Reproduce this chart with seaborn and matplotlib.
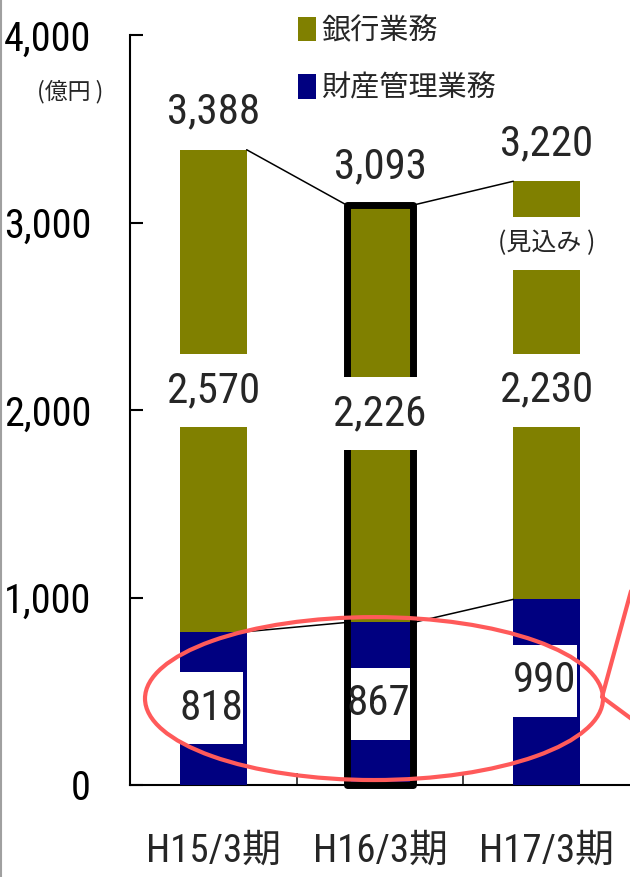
import matplotlib
matplotlib.use("Agg")
import matplotlib.pyplot as plt
from matplotlib.patches import Rectangle, Ellipse, Patch
from matplotlib.lines import Line2D
from matplotlib import font_manager
import seaborn as sns
import pandas as pd

# ---- data (億円) ----
periods = ["H15/3期", "H16/3期", "H17/3期"]
banking = [2570, 2226, 2230]          # 銀行業務
trust = [818, 867, 990]               # 財産管理業務
series_names = ["銀行業務", "財産管理業務"]
y_ticks = [0, 1000, 2000, 3000, 4000]
unit_label = "(億円 )"
forecast_note = "(見込み )"

totals = [b + t for b, t in zip(banking, trust)]

OLIVE = "#808000"
NAVY = "#000080"
RED = "#ff5a5a"

sns.set_style("ticks")


def find_narrow_face():
    """Return (family, stretch) of an installed condensed sans face, if any."""
    narrow = {"condensed", "semi-condensed", "extra-condensed", "ultra-condensed"}
    faces = [f for f in font_manager.fontManager.ttflist
             if f.style == "normal" and f.weight in (400, "normal", "regular")]
    prefs = ["Liberation Sans Narrow", "Arial Narrow", "Roboto Condensed",
             "Open Sans Condensed", "Noto Sans", "Roboto", "Open Sans",
             "DejaVu Sans"]
    for fam in prefs:
        for f in faces:
            if f.name == fam and (f.stretch in narrow or "Narrow" in f.name
                                  or "Condensed" in f.name):
                return f.name, f.stretch
    for f in faces:
        if f.stretch in narrow or "Narrow" in f.name or "Condensed" in f.name:
            return f.name, f.stretch
    return None, None


narrow_family, narrow_stretch = find_narrow_face()
if narrow_family is not None:
    plt.rcParams["font.family"] = [narrow_family, "Noto Sans CJK JP"]
    plt.rcParams["font.stretch"] = narrow_stretch
    k = 1.0
else:
    plt.rcParams["font.family"] = ["Liberation Sans", "Noto Sans CJK JP"]
    k = 0.84

value_size = 31 * k
tick_size = 29 * k
cat_size = 28 * k

fig = plt.figure(figsize=(6.3, 8.77), dpi=100)
ax = fig.add_axes([130 / 630, 92 / 877, 500 / 630, 750 / 877])

df = pd.DataFrame({"期": periods, "合計": totals, "財産管理業務": trust})
sns.barplot(data=df, x="期", y="合計", color=OLIVE, saturation=1, width=0.4,
            linewidth=0, errorbar=None, ax=ax, zorder=2)
sns.barplot(data=df, x="期", y="財産管理業務", color=NAVY, saturation=1, width=0.4,
            linewidth=0, errorbar=None, ax=ax, zorder=3)

hw = 0.2
xs = list(range(len(periods)))

# connecting lines between neighbouring bars
for i in range(len(xs) - 1):
    ax.plot([xs[i] + hw, xs[i + 1] - hw], [totals[i], totals[i + 1]],
            color="black", lw=1.1, zorder=4)
    ax.plot([xs[i] + hw, xs[i + 1] - hw], [trust[i], trust[i + 1]],
            color="black", lw=1.1, zorder=4)

# heavy outline on the middle period
ax.add_patch(Rectangle((xs[1] - hw, 0), 2 * hw, totals[1], fill=False,
                       ec="black", lw=5, joinstyle="round", zorder=5,
                       clip_on=False))

# banking labels in white breaks
for i in xs:
    mid = trust[i] + banking[i] / 2
    ax.add_patch(Rectangle((i - 0.27, mid - 195), 0.54, 390, fc="white",
                           ec="none", zorder=6))
    ax.text(i, mid, f"{banking[i]:,}", ha="center", va="center",
            fontsize=value_size, zorder=7)

# forecast note on the last bar
note_y = 2888
ax.add_patch(Rectangle((xs[2] - 0.27, note_y - 141), 0.54, 282, fc="white",
                       ec="none", zorder=6))
ax.text(xs[2], note_y, forecast_note, ha="center", va="center", fontsize=18,
        family="Noto Sans CJK JP", zorder=7)

# trust labels in white boxes
shift = [0, 0, 60]
for i in xs:
    cy = trust[i] / 2 + shift[i]
    ax.add_patch(Rectangle((i - 0.2, cy - 192), 0.38, 384, fc="white",
                           ec="none", zorder=4.5))
    ax.text(i - 0.01, cy, f"{trust[i]:,}", ha="center", va="center",
            fontsize=value_size, zorder=7)

# totals above the bars
for i in xs:
    ax.annotate(f"{totals[i]:,}", (i, totals[i]), xytext=(0, 19),
                textcoords="offset points", ha="center", va="baseline",
                fontsize=value_size, zorder=7)

# red highlight ellipse with callout
ax.add_patch(Ellipse((0.964, 461), 2.748, 869, fill=False, ec=RED, lw=3,
                     zorder=8, clip_on=False))
ax.plot([2.6, 2.332, 2.6], [1339, 469, 293], color=RED, lw=3, zorder=8,
        clip_on=False)

# axes styling
ax.set_xlim(-0.5, 2.5)
ax.set_ylim(0, 4000)
ax.set_xlabel("")
ax.set_ylabel("")
ax.set_yticks(y_ticks)
ax.set_yticklabels([f"{v:,}" for v in y_ticks])
ax.set_xticks(xs)
ax.set_xticklabels(periods)
ax.set_xticks([0.5, 1.5], minor=True)
for s in ["top", "right"]:
    ax.spines[s].set_visible(False)
for s in ["left", "bottom"]:
    ax.spines[s].set_linewidth(1.5)
    ax.spines[s].set_color("black")
ax.tick_params(axis="y", direction="in", length=9, width=1.5, pad=28,
               labelsize=tick_size, colors="black")
ax.tick_params(axis="x", which="major", length=0, pad=34, labelsize=cat_size)
ax.tick_params(axis="x", which="minor", direction="in", length=9, width=1.2)

# legend
handles = [Patch(fc=OLIVE, ec="none"), Patch(fc=NAVY, ec="none")]
fig.legend(handles, series_names, loc="upper left",
           bbox_to_anchor=(298 / 630, 1 - 17 / 877), frameon=False,
           fontsize=21, handlelength=0.6, handleheight=0.9,
           handletextpad=0.2, labelspacing=1.0, borderpad=0,
           borderaxespad=0)

fig.text(70 / 630, 1 - 92 / 877, unit_label, ha="center", va="center",
         fontsize=16.5, family="Noto Sans CJK JP")

# thin grey frame edge on the left
fig.add_artist(Line2D([0.002, 0.002], [0, 1], transform=fig.transFigure,
                      color="#a0a0a0", lw=1.5))

fig.savefig("out.png", dpi=100)
